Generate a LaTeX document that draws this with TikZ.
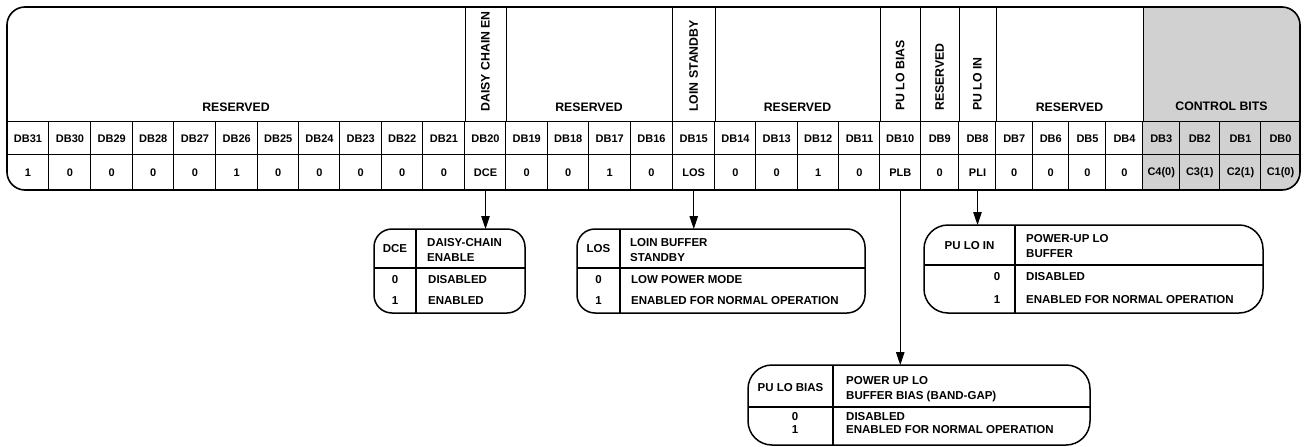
\documentclass[tikz,border=0pt]{standalone}
\usepackage{fontspec}
\setmainfont{Liberation Sans}
\usepackage{tikz}
\usetikzlibrary{positioning,arrows.meta,calc}
\definecolor{ctrlgray}{gray}{0.82}

\begin{document}
\begin{tikzpicture}[
    x=1pt, y=-1pt,
    hdr/.style  = {font=\fontsize{12.3}{14}\selectfont\bfseries, inner sep=0pt},
    vhdr/.style = {hdr, rotate=90, anchor=west},
    cell/.style = {font=\fontsize{11}{13}\selectfont\bfseries, inner sep=0pt},
    tab/.style  = {draw, line width=1.5pt, rounded corners=18pt, inner sep=0pt, outer sep=0pt},
    tt/.style   = {font=\fontsize{11.5}{15}\selectfont\bfseries, inner sep=0pt, align=left},
    ln/.style   = {line width=1.1pt},
    ar/.style   = {line width=1.1pt, -{Triangle[length=13pt,width=8.5pt]}},
]
\useasboundingbox (0,0) rectangle (1304,447);

%--- control bits shading
\begin{scope}
  \clip[rounded corners=18pt] (7,7) rectangle (1300,190);
  \fill[ctrlgray] (1143,7) rectangle (1300,190);
\end{scope}

%--- bit cells: name/left/right/value
\foreach \n/\l/\r/\v in {31/7/49/1, 30/49/91/0, 29/91/132.5/0, 28/132.5/174/0,
    27/174/216/0, 26/216/257.5/1, 25/257.5/299/0, 24/299/340/0, 23/340/381.5/0,
    22/381.5/423/0, 21/423/465/0, 20/465/506/DCE, 19/506/547.5/0, 18/547.5/589/0,
    17/589/630.5/1, 16/630.5/672.5/0, 15/672.5/715/LOS, 14/715/756/0,
    13/756/797.5/0, 12/797.5/839/1, 11/839/880/0, 10/880/920.5/PLB, 9/920.5/959/0,
    8/959/996/PLI, 7/996/1032.5/0, 6/1032.5/1069/0, 5/1069/1106/0, 4/1106/1143/0,
    3/1143/1179.5/C4(0), 2/1179.5/1220/C3(1), 1/1220/1261/C2(1), 0/1261/1300/C1(0)} {
  \node[cell, minimum width={(\r-\l)*1pt}, minimum height=33pt] (db\n) at ({(\l+\r)/2},138.5) {DB\n};
  \node[cell, minimum width={(\r-\l)*1pt}, minimum height=35pt] (v\n) at ({(\l+\r)/2},172.5) {\v};
  \ifnum\n<31 \draw[ln] (db\n.north west) -- (v\n.south west); \fi
}
\draw[ln] (db31.north west) -- (db0.north east);
\draw[ln] (v31.north west) -- (v0.north east);

%--- field borders in the header
\foreach \n in {21,20,16,15,11,10,9,8,4}
  \draw[ln] (db\n.north east) -- ++(0,-115);

%--- field names
\node[hdr] (rsv1) at (236,107) {RESERVED};
\node[hdr] (rsv2) at (589,107) {RESERVED};
\node[hdr] (rsv3) at (797.5,107) {RESERVED};
\node[hdr] (rsv4) at (1069.5,107) {RESERVED};
\node[hdr] (ctrl) at (1221.5,106) {CONTROL BITS};
\node[vhdr] (fdce) at ([yshift=10pt]db20.north) {DAISY CHAIN EN};
\node[vhdr] (flos) at ([yshift=10pt]db15.north) {LOIN STANDBY};
\node[vhdr] (fplb) at ([yshift=11pt]db10.north) {PU LO BIAS};
\node[vhdr] (frsv) at ([yshift=11pt]db9.north) {RESERVED};
\node[vhdr] (fpli) at ([yshift=11pt]db8.north) {PU LO IN};

\draw[line width=1.6pt, rounded corners=18pt] (7,7) rectangle (1300,190);

%--- DCE table
\node[tab, minimum width=151pt, minimum height=84pt] (dcetab) at (449.5,271) {};
\draw[ln] ([xshift=42pt]dcetab.north west) -- ([xshift=42pt]dcetab.south west);
\draw[ln] ([yshift=-39pt]dcetab.north west) -- ([yshift=-39pt]dcetab.north east);
\node[tt] (dcek) at (395,248.5) {DCE};
\node[tt, anchor=west] (dcet) at (427,250) {DAISY-CHAIN\\ENABLE};
\node[tt] (dcek0) at (395,280) {0};
\node[tt, anchor=west] (dcet0) at (428,280) {DISABLED};
\node[tt] (dcek1) at (395,301) {1};
\node[tt, anchor=west] (dcet1) at (428,301) {ENABLED};

%--- LOS table
\node[tab, minimum width=288pt, minimum height=84pt] (lostab) at (721,271) {};
\draw[ln] ([xshift=43pt]lostab.north west) -- ([xshift=43pt]lostab.south west);
\draw[ln] ([yshift=-39pt]lostab.north west) -- ([yshift=-39pt]lostab.north east);
\node[tt] (losk) at (598.5,248.5) {LOS};
\node[tt, anchor=west] (lost) at (630,250.5) {LOIN BUFFER\\STANDBY};
\node[tt] (losk0) at (598.5,280) {0};
\node[tt, anchor=west] (lost0) at (631,280) {LOW POWER MODE};
\node[tt] (losk1) at (598.5,301) {1};
\node[tt, anchor=west] (lost1) at (631,301) {ENABLED FOR NORMAL OPERATION};

%--- PU LO IN table
\node[tab, rounded corners=24pt, minimum width=339pt, minimum height=88pt] (plitab) at (1093.5,269) {};
\draw[ln] ([xshift=91pt]plitab.north west) -- ([xshift=91pt]plitab.south west);
\draw[ln] ([yshift=-40pt]plitab.north west) -- ([yshift=-40pt]plitab.north east);
\node[tt] (plik) at (969.5,246) {PU LO IN};
\node[tt, anchor=west] (plit) at (1026,246.5) {POWER-UP LO\\BUFFER};
\node[tt] (plik0) at (997,277) {0};
\node[tt, anchor=west] (plit0) at (1026,277) {DISABLED};
\node[tt] (plik1) at (997,300) {1};
\node[tt, anchor=west] (plit1) at (1026,300) {ENABLED FOR NORMAL OPERATION};

%--- PU LO BIAS table
\node[tab, rounded corners=24pt, minimum width=342pt, minimum height=80pt] (plbtab) at (919,405) {};
\draw[ln] ([xshift=85pt]plbtab.north west) -- ([xshift=85pt]plbtab.south west);
\draw[ln] ([yshift=-42pt]plbtab.north west) -- ([yshift=-42pt]plbtab.north east);
\node[tt] (plbk) at (790.5,388) {PU LO BIAS};
\node[tt, anchor=west] (plbt) at (846,389) {POWER UP LO\\BUFFER BIAS (BAND-GAP)};
\node[tt] (plbk0) at (795,417) {0};
\node[tt, anchor=west] (plbt0) at (846,417) {DISABLED};
\node[tt] (plbk1) at (795,430) {1};
\node[tt, anchor=west] (plbt1) at (846,430) {ENABLED FOR NORMAL OPERATION};

%--- arrows
\draw[ar] (v20.south) -- (v20.south |- dcetab.north);
\draw[ar] (v15.south) -- (v15.south |- lostab.north);
\draw[ar] (v10.south) -- (v10.south |- plbtab.north);
\draw[ar] (v8.south) -- (v8.south |- plitab.north);

\end{tikzpicture}
\end{document}
